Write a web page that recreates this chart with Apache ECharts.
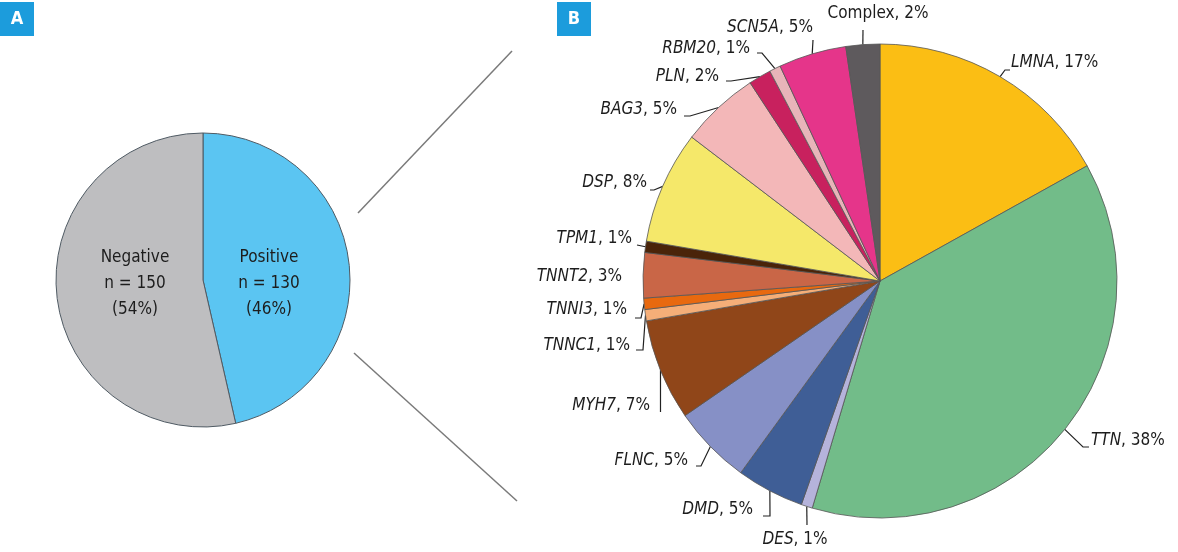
<!DOCTYPE html>
<html>
<head>
<meta charset="utf-8">
<title>Genetic testing results</title>
<script src="https://cdn.jsdelivr.net/npm/echarts@6/dist/echarts.min.js"></script>
<style>
  html, body { margin: 0; padding: 0; background: #fff; }
  #chart { width: 1178px; height: 552px; }
</style>
</head>
<body>
<div id="chart"></div>
<script>
// Panel A: overall result
const overviewNames = ['Positive', 'Negative'];
const overviewCounts = [130, 150];
const overviewPct = [46, 54];

// Panel B: genes among positive patients (counts out of 130, printed %)
const geneNames = ['LMNA', 'TTN', 'DES', 'DMD', 'FLNC', 'MYH7', 'TNNC1', 'TNNI3',
  'TNNT2', 'TPM1', 'DSP', 'BAG3', 'PLN', 'RBM20', 'SCN5A', 'Complex'];
const geneCounts = [22, 49, 1, 6, 7, 9, 1, 1, 4, 1, 10, 7, 2, 1, 6, 3];
const genePct = [17, 38, 1, 5, 5, 7, 1, 1, 3, 1, 8, 5, 2, 1, 5, 2];

// styles
const overviewColors = ['#5BC5F2', '#BEBEC0'];
const geneColors = ['#FBBE14', '#72BC89', '#B5B3DB', '#3F5E96', '#8690C6', '#904619',
  '#F5AE78', '#E8690F', '#C96647', '#4A2409', '#F5E86A', '#F3B7B8', '#C8215E',
  '#E8B4B9', '#E5358A', '#5E5A5D'];
const FONT = '"Liberation Sans Narrow", "DejaVu Sans Condensed", "Roboto", sans-serif';
const FONT_SIZE = 17;
const TEXT = '#1d1d1d';

// label layout (label anchor + leader line bend/end)
const overviewSpots = [
  { x: 269, y: 284 },
  { x: 135, y: 284 }
];
const geneSpots = [
  { x: 1011, y: 63, align: 'left', line: [[1005, 70], [1010, 70]] },
  { x: 1091, y: 441, align: 'left', line: [[1083, 447], [1089, 447]] },
  { x: 795, y: 540, align: 'center', line: [[807, 525], [807, 525]] },
  { x: 753, y: 510, align: 'right', line: [[770, 516], [763, 516]] },
  { x: 688, y: 461, align: 'right', line: [[701, 466], [696, 466]] },
  { x: 650, y: 406, align: 'right', line: [[660.5, 412], [660.5, 412]] },
  { x: 630, y: 346, align: 'right', line: [[643, 350], [636, 350]] },
  { x: 627, y: 310, align: 'right', line: [[641, 318], [635, 318]] },
  { x: 622, y: 277, align: 'right', line: null },
  { x: 632, y: 239, align: 'right', line: [[637, 245], [637, 245]] },
  { x: 647, y: 183, align: 'right', line: [[654, 190], [650, 190]] },
  { x: 677, y: 110, align: 'right', line: [[690, 116], [684, 116]] },
  { x: 719, y: 77, align: 'right', line: [[731, 81], [726, 81]] },
  { x: 750, y: 49, align: 'right', line: [[762, 53], [757, 53]] },
  { x: 813, y: 28, align: 'right', line: [[813, 40], [813, 40]] },
  { x: 878, y: 14, align: 'center', line: [[863, 30], [863, 30]] }
];

const chart = echarts.init(document.getElementById('chart'), null, { renderer: 'canvas' });

const overviewData = overviewNames.map((name, i) => ({
  name: name,
  value: overviewCounts[i],
  itemStyle: { color: overviewColors[i] }
}));

const geneData = geneNames.map((name, i) => ({
  name: name,
  value: geneCounts[i],
  itemStyle: { color: geneColors[i] },
  labelLine: { show: geneSpots[i].line !== null }
}));

const badge = (x, letter) => ({
  type: 'group',
  left: x,
  top: 2,
  children: [
    { type: 'rect', shape: { x: 0, y: 0, width: 34, height: 34 }, style: { fill: '#1C9CDC' } },
    {
      type: 'text', x: 17, y: 17,
      style: {
        text: letter, fill: '#fff', font: 'bold 18px ' + FONT,
        align: 'center', verticalAlign: 'middle'
      }
    }
  ]
});

const option = {
  animation: false,
  graphic: [
    badge(0, 'A'),
    badge(557, 'B'),
    { type: 'line', shape: { x1: 358, y1: 213, x2: 512, y2: 51 }, style: { stroke: '#7a7a7a', lineWidth: 1.5 } },
    { type: 'line', shape: { x1: 354, y1: 353, x2: 517, y2: 501 }, style: { stroke: '#7a7a7a', lineWidth: 1.5 } }
  ],
  series: [
    {
      type: 'pie',
      center: [203, 280],
      radius: 147,
      startAngle: 90,
      clockwise: true,
      silent: true,
      data: overviewData,
      itemStyle: { borderColor: '#4f5a63', borderWidth: 1 },
      label: {
        position: 'inside',
        color: TEXT,
        fontFamily: FONT,
        fontSize: FONT_SIZE,
        lineHeight: 26,
        align: 'center',
        formatter: (p) => p.name + '\nn = ' + overviewCounts[p.dataIndex] +
          '\n(' + overviewPct[p.dataIndex] + '%)'
      },
      labelLayout: (p) => ({
        x: overviewSpots[p.dataIndex].x,
        y: overviewSpots[p.dataIndex].y,
        align: 'center',
        verticalAlign: 'middle'
      })
    },
    {
      type: 'pie',
      center: [880, 281],
      radius: 237,
      startAngle: 90,
      clockwise: true,
      silent: true,
      avoidLabelOverlap: false,
      data: geneData,
      itemStyle: { borderColor: '#555', borderWidth: 0.8 },
      label: {
        position: 'outside',
        color: TEXT,
        fontFamily: FONT,
        fontSize: FONT_SIZE,
        formatter: (p) => {
          const pct = genePct[p.dataIndex];
          if (p.name === 'Complex') return '{n|' + p.name + ', ' + pct + '%}';
          return '{g|' + p.name + '}{n|, ' + pct + '%}';
        },
        rich: {
          g: { fontStyle: 'italic', fontFamily: FONT, fontSize: FONT_SIZE, color: TEXT },
          n: { fontFamily: FONT, fontSize: FONT_SIZE, color: TEXT }
        }
      },
      labelLine: {
        length: 5,
        length2: 5,
        smooth: false,
        lineStyle: { color: '#222', width: 1.2 }
      },
      labelLayout: (p) => {
        const spot = geneSpots[p.dataIndex];
        const out = { x: spot.x, y: spot.y, align: spot.align, verticalAlign: 'middle' };
        if (spot.line && p.labelLinePoints && p.labelLinePoints[0]) {
          const start = p.labelLinePoints[0];
          out.labelLinePoints = [[start[0], start[1]], spot.line[0].slice(), spot.line[1].slice()];
        }
        return out;
      }
    }
  ]
};

chart.setOption(option);
</script>
</body>
</html>
